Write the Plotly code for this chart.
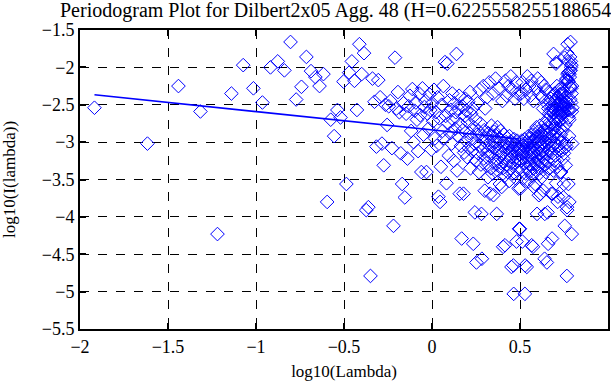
import numpy as np
import plotly.graph_objects as go

# ---- data ----
N_SAMPLES = 520                     # series length after aggregation
H_TEXT = "0.6225558255188654"       # Hurst estimate shown in title
H_ESTIMATE = float(H_TEXT)
FIT_INTERCEPT = -2.837              # intercept of the fitted line

# periodogram ordinates log10(I(lambda_k)) for k = 1 .. N/2
log_I_half = [
    -2.54, -3.02, -2.25, -2.59, -4.23, -2.35, -1.97, -2.28, -2.47, -2.00,
    -1.92, -2.04, -1.66, -2.43, -2.26, -1.86, -2.05, -2.13, -2.25, -2.09,
    -3.80, -2.70, -2.92, -2.57, -2.67, -2.19, -3.56, -2.07, -1.92, -2.18,
    -2.57, -1.69, -2.09, -1.81, -3.91, -3.87, -4.79, -2.15, -2.46, -3.06,
    -2.17, -2.40, -3.02, -3.31, -2.50, -2.77, -2.52, -2.45, -3.08, -4.12,
    -1.87, -2.55, -2.33, -2.60, -3.15, -3.56, -2.48, -3.74, -2.62, -3.22,
    -2.52, -2.38, -2.85, -2.29, -3.00, -2.58, -2.47, -2.70, -3.12, -2.35,
    -2.64, -3.40, -2.28, -2.90, -2.53, -2.45, -3.40, -2.62, -2.82, -2.36,
    -2.57, -3.10, -2.48, -2.72, -2.30, -2.95, -2.60, -3.05, -2.40, -3.73,
    -2.68, -3.80, -3.33, -2.50, -2.85, -2.25, -2.95, -1.93, -2.65, -3.55,
    -1.95, -2.75, -3.18, -2.44, -2.88, -2.57, -3.02, -2.35, -2.70, -3.25,
    -2.48, -2.82, -2.60, -1.82, -3.38, -2.55, -2.92, -2.38, -3.69, -2.76,
    -3.05, -4.29, -2.52, -2.84, -3.69, -3.14, -2.65, -2.42, -2.98, -2.58,
    -3.20, -2.73, -2.46, -3.08, -2.88, -2.33, -3.35, -2.62, -2.95, -3.12,
    -2.55, -4.36, -2.80, -3.02, -3.94, -2.70, -3.25, -4.61, -2.90, -2.48,
    -3.15, -2.85, -3.40, -2.30, -3.05, -2.75, -3.30, -3.96, -4.56, -2.92,
    -3.10, -2.25, -3.22, -2.84, -3.65, -2.55, -3.00, -2.95, -3.28, -2.40,
    -3.12, -3.47, -2.88, -3.18, -2.20, -3.05, -3.69, -2.92, -3.35, -2.78,
    -3.15, -2.98, -3.42, -2.35, -3.71, -3.08, -2.86, -3.25, -3.00, -2.15,
    -3.30, -2.92, -3.96, -3.10, -2.80, -3.38, -3.02, -2.28, -3.20, -2.95,
    -3.56, -3.12, -2.85, -3.28, -2.98, -3.60, -3.15, -2.45, -3.35, -4.40,
    -3.05, -2.90, -3.22, -3.45, -4.38, -2.18, -3.10, -3.00, -3.30, -2.38,
    -3.18, -2.95, -3.40, -3.08, -2.25, -3.25, -3.52, -2.92, -3.12, -3.02,
    -3.35, -2.12, -3.20, -4.67, -3.00, -3.15, -2.30, -3.42, -3.08, -4.65,
    -5.03, -2.96, -3.28, -3.10, -2.42, -3.48, -3.05, -3.20, -2.20, -4.33,
    -3.15, -2.98, -3.38, -3.06, -2.35, -3.25, -3.62, -3.10, -4.16, -4.16,
]

title_text = "Periodogram Plot for Dilbert2x05 Agg. 48 (H=" + H_TEXT + ")"
x_title = "log10(Lambda)"
y_title = "log10(I(lambda))"
x_ticks = [-2, -1.5, -1, -0.5, 0, 0.5, 1]
y_ticks = [-5.5, -5, -4.5, -4, -3.5, -3, -2.5, -2, -1.5]

# ---- derived ----
half = len(log_I_half)
k = np.arange(1, N_SAMPLES)
freqs = 2 * np.pi * k / N_SAMPLES
log_lambda = np.log10(freqs)
# periodogram is symmetric: I(2*pi - lambda) = I(lambda)
log_I = np.array(log_I_half + log_I_half[:N_SAMPLES - 1 - half][::-1])

slope = 1 - 2 * H_ESTIMATE
fit_x = np.array([log_lambda[0], log_lambda[half - 1]])
fit_y = FIT_INTERCEPT + slope * fit_x

font_family = "Liberation Serif, Times New Roman, serif"
FIG_W, FIG_H = 611, 385

fig = go.Figure()
fig.add_trace(go.Scatter(
    x=log_lambda, y=log_I, mode="markers",
    marker=dict(symbol="diamond-open", size=10.5, color="#0000ff",
                line=dict(width=1, color="#0000ff")),
    showlegend=False, hoverinfo="skip"))
fig.add_trace(go.Scatter(
    x=fit_x, y=fit_y, mode="lines",
    line=dict(color="#0000ff", width=1.6),
    showlegend=False, hoverinfo="skip"))

axis_common = dict(
    showline=True, linecolor="black", linewidth=2, mirror="ticks",
    ticks="inside", ticklen=6, tickwidth=1.5, tickcolor="black",
    showgrid=True, gridcolor="black", gridwidth=1, griddash="dash",
    zeroline=False, automargin=False,
    tickfont=dict(family=font_family, size=18, color="black"),
)

fig.update_layout(
    width=FIG_W, height=FIG_H,
    margin=dict(l=80, r=3, t=30, b=56, autoexpand=False),
    paper_bgcolor="white", plot_bgcolor="white",
    title=dict(text=title_text, x=60 / FIG_W, xanchor="left", xref="container",
               y=1 - 10 / FIG_H, yanchor="middle", yref="container",
               font=dict(family=font_family, size=20, color="black")),
    xaxis=dict(range=[-2, 1], tickvals=x_ticks,
               title=dict(text=x_title, standoff=10,
                          font=dict(family=font_family, size=17, color="black")),
               **axis_common),
    yaxis=dict(range=[-5.5, -1.5], tickvals=y_ticks,
               title=dict(text=y_title, standoff=22,
                          font=dict(family=font_family, size=17, color="black")),
               **axis_common),
)

# remove the default page margin so the figure sits at the window's corner
fig.write_html("out.html",
               config={"displayModeBar": False},
               post_script="document.body.style.margin='0';document.body.style.padding='0';")
